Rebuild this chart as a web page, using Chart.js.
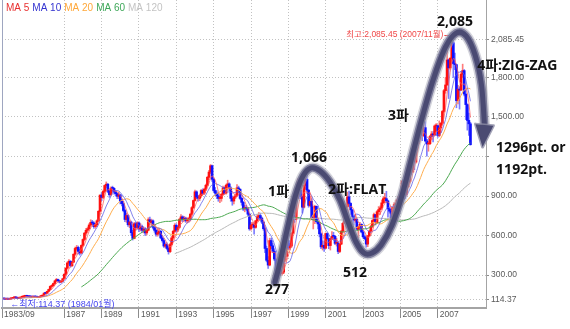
<!DOCTYPE html>
<html>
<head>
<meta charset="utf-8">
<script src="https://cdn.jsdelivr.net/npm/chart.js@4.4.0/dist/chart.umd.min.js"></script>
<style>
  html, body { margin: 0; padding: 0; background: #fff; }
</style>
</head>
<body>
<canvas id="chart" width="570" height="329"></canvas>
<script>
// KOSPI monthly candles, month 0 = 1983/01 (the first months only feed the moving averages)
const startYear = 1983;
const firstShown = 8; // window opens at 1983/09

const opens = [
  122,123,125,128,131,130,125,122,119,121,119,117,            // 1983
  121,117,120,123,128,131,127,124,126,132,136,139,            // 1984
  142,139,136,135,133,136,134,133,131,137,140,147,            // 1985
  163,161,176,191,214,220,236,256,266,256,247,254,            // 1986
  272,306,352,392,405,370,398,458,502,510,480,468,            // 1987
  525,570,618,640,652,680,700,695,668,682,712,784,            // 1988
  907,890,935,980,990,936,910,960,958,930,918,898,            // 1989
  909,860,842,790,722,752,682,702,622,578,690,662,            // 1990
  696,650,668,640,650,620,640,720,700,712,662,640,            // 1991
  610,622,632,582,562,520,532,502,478,532,582,632,            // 1992
  678,642,662,722,742,722,732,712,722,722,762,812,            // 1993
  866,932,892,882,902,942,922,952,982,1042,1082,1130,         // 1994
  1027,942,922,902,882,882,912,962,922,982,992,962,           // 1995
  882,862,892,902,962,952,882,852,802,812,802,762,            // 1996
  651,680,680,662,712,742,752,732,702,652,502,412,            // 1997
  376,562,522,482,422,332,300,342,312,322,412,442,            // 1998
  562,506,520,618,752,724,883,1005,943,894,815,981,           // 1999
  1028,944,829,860,725,731,822,706,688,613,514,526,           // 2000
  504,615,577,524,576,595,594,541,545,479,535,633,            // 2001
  693,752,819,894,844,795,743,717,723,646,669,685,            // 2002
  627,591,576,535,599,633,669,714,759,697,781,797,            // 2003
  810,848,880,880,863,803,785,735,812,835,845,870,            // 2004
  896,932,1011,965,912,970,1008,1111,1083,1221,1158,1297,     // 2005
  1379,1399,1371,1359,1419,1318,1295,1297,1352,1371,1364,1432,// 2006
  1434,1360,1417,1452,1542,1700,1743,1933,1873,1946,2064,1906,// 2007
  1897,1624,1711,1704,1825,1852,1674,1594,1474,1448           // 2008
];
const highs = [
  126,127,131,134,133,131,127,123,123,123,121,123,
  123,122,125,130,134,133,129,128,134,139,141,145,
  145,141,139,137,138,138,136,135,139,143,150,166,
  168,179,194,218,227,240,261,275,270,260,258,276,
  310,356,400,418,410,402,462,512,525,520,495,530,
  575,625,655,665,690,720,715,705,695,720,790,910,
  925,945,985,1007,995,945,970,975,965,940,925,930,
  912,875,860,800,770,760,710,710,640,700,700,705,
  705,690,680,665,660,650,735,740,725,720,675,650,
  650,655,640,600,575,545,545,515,540,595,640,690,
  690,670,730,760,750,745,740,735,740,770,820,870,
  945,940,905,915,950,955,960,990,1050,1095,1139,1135,
  1035,965,940,920,900,920,975,970,990,1020,1000,970,
  900,900,915,986,975,955,890,860,830,830,815,770,
  700,700,695,715,760,775,770,740,710,660,520,440,
  580,580,540,500,430,345,375,345,330,420,470,565,
  640,540,625,760,780,900,1030,1010,990,900,990,1050,
  1066,950,900,880,760,830,825,730,700,620,560,560,
  620,620,580,580,630,625,600,580,550,540,640,700,
  770,825,930,937,850,800,750,760,730,670,700,690,
  640,600,590,600,640,680,720,770,760,790,820,825,
  870,895,920,936,870,810,800,815,850,870,880,900,
  940,1020,1022,970,975,1010,1120,1130,1225,1240,1300,1380,
  1420,1410,1390,1450,1464,1330,1320,1360,1390,1390,1440,1450,
  1440,1470,1460,1550,1710,1800,2005,1940,1950,2064,2085.45,1985,
  1900,1740,1730,1840,1901,1860,1700,1600,1530,1460
];
const lows = [
  120,121,124,127,127,123,120,117,118,117,115,116,
  114.37,116,119,122,127,125,122,123,125,131,134,137,
  137,134,132,131,131,132,131,129,130,135,139,146,
  156,158,173,188,206,214,232,250,251,240,243,250,
  268,300,345,380,360,365,395,450,490,460,452,462,
  520,560,605,625,645,670,680,655,655,670,705,780,
  865,880,925,965,925,890,900,935,915,900,880,880,
  840,825,780,705,700,670,660,600,566,575,640,650,
  630,635,625,620,600,605,635,685,680,650,625,595,
  595,610,575,550,510,505,490,459,470,520,570,625,
  625,630,655,710,705,710,700,695,700,710,755,805,
  860,880,860,865,890,910,910,940,975,1025,1070,1010,
  930,905,880,860,850,860,905,915,915,960,940,860,
  830,840,880,895,925,875,830,790,780,790,750,640,
  640,660,610,655,705,730,720,690,640,470,400,350,
  370,500,470,410,320,277.37,295,300,300,310,400,440,
  495,490,510,610,700,720,880,880,880,770,810,950,
  920,815,820,720,650,690,700,650,590,500,490,480,
  500,570,500,490,570,570,530,520,463,470,530,620,
  690,720,810,840,760,700,680,700,640,585,640,620,
  580,570,512,515,590,625,660,700,680,690,760,760,
  800,840,850,850,740,770,720,735,800,820,830,860,
  860,930,950,880,900,960,1000,1060,1080,1100,1150,1290,
  1340,1330,1320,1350,1310,1203,1240,1290,1330,1310,1360,1390,
  1345,1350,1380,1440,1535,1680,1740,1640,1860,1900,1800,1860,
  1570,1600,1560,1700,1800,1660,1480,1400,1360,1286
];
const closes = [
  123,125,128,131,130,125,122,119,121,119,117,121,
  117,120,123,128,131,127,124,126,132,136,139,142,
  139,136,135,133,136,134,133,131,137,140,147,163,
  161,176,191,214,220,236,256,266,256,247,254,272,
  306,352,392,405,370,398,458,502,510,480,468,525,
  570,618,640,652,680,700,695,668,682,712,784,907,
  890,935,980,990,936,910,960,958,930,918,898,909,
  860,842,790,722,752,682,702,622,578,690,662,696,
  650,668,640,650,620,640,720,700,712,662,640,610,
  622,632,582,562,520,532,502,478,532,582,632,678,
  642,662,722,742,722,732,712,722,722,762,812,866,
  932,892,882,902,942,922,952,982,1042,1082,1130,1027,
  942,922,902,882,882,912,962,922,982,992,962,882,
  862,892,902,962,952,882,852,802,812,802,762,651,
  680,680,662,712,742,752,732,702,652,502,412,376,
  562,522,482,422,332,300,342,312,322,412,442,562,
  506,520,618,752,724,883,1005,943,894,815,981,1028,
  944,829,860,725,731,822,706,688,613,514,526,504,
  615,577,524,576,595,594,541,545,479,535,633,693,
  752,819,894,844,795,743,717,723,646,669,685,627,
  591,576,535,599,633,669,714,759,697,781,797,810,
  848,880,880,863,803,785,735,812,835,845,870,896,
  932,1011,965,912,970,1008,1111,1083,1221,1158,1297,1379,
  1399,1371,1359,1419,1318,1295,1297,1352,1371,1364,1432,1434,
  1360,1417,1452,1542,1700,1743,1933,1873,1946,2064,1906,1897,
  1624,1711,1704,1825,1852,1674,1594,1474,1448,1290
];

const maPeriods = [5, 10, 20, 60, 120];
const maNames = ['MA 5', 'MA 10', 'MA 20', 'MA 60', 'MA 120'];
const maLineColors = ['rgba(255,90,90,0.75)', 'rgba(90,90,230,0.75)', '#ffad4d', '#4aa84f', '#b8b8b8'];
const maTextColors = ['#e83030', '#3434d0', '#ffa83a', '#3fa85a', '#c4c4c4'];

const yTicks = [114.37, 300, 600, 900, 1200, 1500, 1800, 2085.45];
const xTickMonths = [8, 48, 72, 96, 120, 144, 168, 192, 216, 240, 264, 288];
const xTickLabels = ['1983/09', '1987', '1989', '1991', '1993', '1995', '1997', '1999', '2001', '2003', '2005', '2007'];

// Elliott wave sketch, [month, value]; the last entry is the arrow base
const wavePath = [
  [183.4, 247], [186.7, 399], [191.2, 642], [196.3, 893], [201.4, 1052], [206.6, 1113],
  [212.4, 1090], [218.8, 1006], [225.2, 870], [230.4, 703], [235.5, 551], [240.6, 467],
  [245.8, 467], [251.6, 528], [258.6, 680], [265.1, 908], [270.9, 1173], [277.9, 1492],
  [285, 1781], [292.7, 2024], [299.8, 2137], [306.2, 2115], [312, 1970], [316.1, 1743],
  [318, 1440]
];
const waveTip = [316.8, 1272];

// wave labels: text, month, value, alignment
const notes = [
  ['2,085', 299.1, 2221, 'center'],
  ['4파:ZIG-ZAG', 313.3, 1887, 'left'],
  ['1296pt. or', 325.5, 1265, 'left'],
  ['1192pt.', 325.5, 1098, 'left'],
  ['3파', 256.1, 1507, 'left'],
  ['1,066', 205.3, 1189, 'center'],
  ['1파', 179, 931, 'left'],
  ['2파:FLAT', 217.5, 946, 'left'],
  ['512', 234.9, 316, 'center'],
  ['277', 184.7, 187, 'center']
];

function movingAverage(n) {
  const out = [];
  for (let i = n - 1; i < closes.length; i++) {
    let s = 0;
    for (let k = i - n + 1; k <= i; k++) s += closes[k];
    out.push({x: i, y: s / n});
  }
  return out;
}

function monthLabel(i) {
  const y = startYear + Math.floor(i / 12);
  const m = (i % 12) + 1;
  return y + '/' + (m < 10 ? '0' + m : m);
}

const shown = [];
for (let i = firstShown; i < closes.length; i++) shown.push(i);
const rising = shown.map(i => closes[i] >= opens[i]);

// extremes inside the window
let hiIdx = firstShown, loIdx = firstShown;
shown.forEach(i => {
  if (highs[i] > highs[hiIdx]) hiIdx = i;
  if (lows[i] < lows[loIdx]) loIdx = i;
});
const fmt = v => v.toLocaleString('en-US', {minimumFractionDigits: 2, maximumFractionDigits: 2});

const smallFont = '"Liberation Sans Narrow", "Liberation Sans", "Noto Sans CJK KR", sans-serif';
const boldFont = 'bold 14px "Open Sans", "Noto Sans CJK KR", sans-serif';

function waveCurve(ctx, pts) {
  ctx.beginPath();
  ctx.moveTo(pts[0][0], pts[0][1]);
  for (let k = 0; k < pts.length - 1; k++) {
    const p0 = pts[k - 1] || pts[k], p1 = pts[k], p2 = pts[k + 1], p3 = pts[k + 2] || p2;
    ctx.bezierCurveTo(
      p1[0] + (p2[0] - p0[0]) / 6, p1[1] + (p2[1] - p0[1]) / 6,
      p2[0] - (p3[0] - p1[0]) / 6, p2[1] - (p3[1] - p1[1]) / 6,
      p2[0], p2[1]);
  }
}

const overlay = {
  id: 'overlay',
  afterDraw(chart) {
    const {ctx, chartArea: a, scales: {x, y}} = chart;
    ctx.save();

    // left frame line
    ctx.strokeStyle = '#9ea6c0';
    ctx.lineWidth = 1;
    ctx.beginPath();
    ctx.moveTo(Math.round(a.left) + 0.5, 0);
    ctx.lineTo(Math.round(a.left) + 0.5, a.bottom);
    ctx.stroke();

    // MA legend
    ctx.font = '10px ' + smallFont;
    ctx.textBaseline = 'middle';
    ctx.textAlign = 'left';
    let lx = a.left + 4;
    maNames.forEach((name, k) => {
      ctx.fillStyle = maTextColors[k];
      ctx.fillText(name, lx, 8);
      lx += ctx.measureText(name).width + 3;
    });

    // high / low markers
    ctx.font = '8.5px ' + smallFont;
    const hx = x.getPixelForValue(hiIdx), hy = y.getPixelForValue(highs[hiIdx]) - 5;
    ctx.fillStyle = '#f04848';
    ctx.textAlign = 'right';
    ctx.fillText('최고:' + fmt(highs[hiIdx]) + ' (' + monthLabel(hiIdx) + '월)', hx - 10, hy);
    ctx.strokeStyle = '#f04848';
    ctx.beginPath();
    ctx.moveTo(hx - 9, Math.round(hy) + 0.5);
    ctx.lineTo(hx + 2, Math.round(hy) + 0.5);
    ctx.stroke();

    ctx.font = '9px ' + smallFont;
    const lxp = x.getPixelForValue(loIdx) + 2, lyp = y.getPixelForValue(lows[loIdx]) + 5;
    ctx.fillStyle = '#4646f0';
    ctx.textAlign = 'left';
    ctx.fillText('←최저:' + fmt(lows[loIdx]) + ' (' + monthLabel(loIdx) + '월)', lxp, lyp);

    // wave arrow
    const pts = wavePath.map(([m, v]) => [x.getPixelForValue(m), y.getPixelForValue(v)]);
    ctx.lineCap = 'round';
    ctx.lineJoin = 'round';
    [[11, 'rgba(175,175,190,0.55)'], [8, 'rgba(118,118,150,0.9)'], [5, '#4a4a72']].forEach(([w, c]) => {
      waveCurve(ctx, pts);
      ctx.lineWidth = w;
      ctx.strokeStyle = c;
      ctx.stroke();
    });
    const b = pts[pts.length - 1];
    const t = [x.getPixelForValue(waveTip[0]), y.getPixelForValue(waveTip[1])];
    const len = Math.hypot(t[0] - b[0], t[1] - b[1]);
    const px = -(t[1] - b[1]) / len * 9, py = (t[0] - b[0]) / len * 9;
    ctx.beginPath();
    ctx.moveTo(b[0] + px, b[1] + py);
    ctx.lineTo(t[0], t[1]);
    ctx.lineTo(b[0] - px, b[1] - py);
    ctx.closePath();
    ctx.lineWidth = 3;
    ctx.strokeStyle = 'rgba(140,140,165,0.8)';
    ctx.stroke();
    ctx.fillStyle = '#4a4a72';
    ctx.fill();

    // wave labels, on top of the arrow
    ctx.font = boldFont;
    ctx.fillStyle = '#111';
    notes.forEach(([txt, m, v, al]) => {
      ctx.textAlign = al;
      ctx.fillText(txt, x.getPixelForValue(m), y.getPixelForValue(v));
    });

    ctx.restore();
  }
};

const maSets = maPeriods.map((n, k) => ({
  type: 'line',
  label: maNames[k],
  data: movingAverage(n),
  borderColor: maLineColors[k],
  borderWidth: 1,
  pointRadius: 0,
  tension: 0,
  order: 0
}));

new Chart(document.getElementById('chart').getContext('2d'), {
  type: 'bar',
  data: {
    datasets: [
      ...maSets,
      {
        label: 'body',
        data: shown.map(i => ({x: i, y: [opens[i], closes[i]]})),
        backgroundColor: rising.map(u => u ? '#ff1010' : '#1010ff'),
        barThickness: 2,
        minBarLength: 1,
        grouped: false,
        borderWidth: 0,
        order: 1
      },
      {
        label: 'wick',
        data: shown.map(i => ({x: i, y: [lows[i], highs[i]]})),
        backgroundColor: rising.map(u => u ? '#ff7c7c' : '#7c7cff'),
        barThickness: 1,
        grouped: false,
        borderWidth: 0,
        order: 2
      }
    ]
  },
  options: {
    responsive: false,
    animation: false,
    layout: {padding: {left: 2, top: 0, right: 0, bottom: 0}},
    plugins: {legend: {display: false}, tooltip: {enabled: false}},
    scales: {
      x: {
        type: 'linear',
        position: 'bottom',
        offset: false,
        min: 8,
        max: 319,
        afterBuildTicks: s => { s.ticks = xTickMonths.map(v => ({value: v})); },
        afterFit: s => { s.height = 21; s.paddingLeft = 0; s.paddingRight = 0; },
        ticks: {
          autoSkip: false,
          maxRotation: 0,
          align: 'start',
          labelOffset: 2,
          padding: -8,
          color: '#5a5a5a',
          font: {family: smallFont, size: 8.5},
          callback: v => xTickLabels[xTickMonths.indexOf(v)]
        },
        grid: {
          offset: false,
          color: c => (c.tick && c.tick.value === 8) ? 'rgba(0,0,0,0)' : '#c2c2c2',
          lineWidth: 1,
          tickLength: 10,
          tickColor: '#8c8c8c'
        },
        border: {display: true, color: '#a4a4a4', width: 2, dash: [1, 2]}
      },
      y: {
        position: 'right',
        min: 50,
        max: 2388,
        afterBuildTicks: s => { s.ticks = yTicks.map(v => ({value: v})); },
        afterFit: s => { s.width = 84; s.paddingTop = 0; s.paddingBottom = 0; },
        ticks: {
          autoSkip: false,
          padding: 2,
          color: '#5a5a5a',
          font: {family: smallFont, size: 8.5},
          callback: v => v === 1200 ? '' : fmt(v)
        },
        grid: {
          color: '#c2c2c2',
          lineWidth: 1,
          tickLength: 3,
          tickColor: '#8c8c8c'
        },
        border: {display: true, color: '#a4a4a4', width: 1, dash: [1, 2]}
      }
    }
  },
  plugins: [overlay]
});
</script>
</body>
</html>
